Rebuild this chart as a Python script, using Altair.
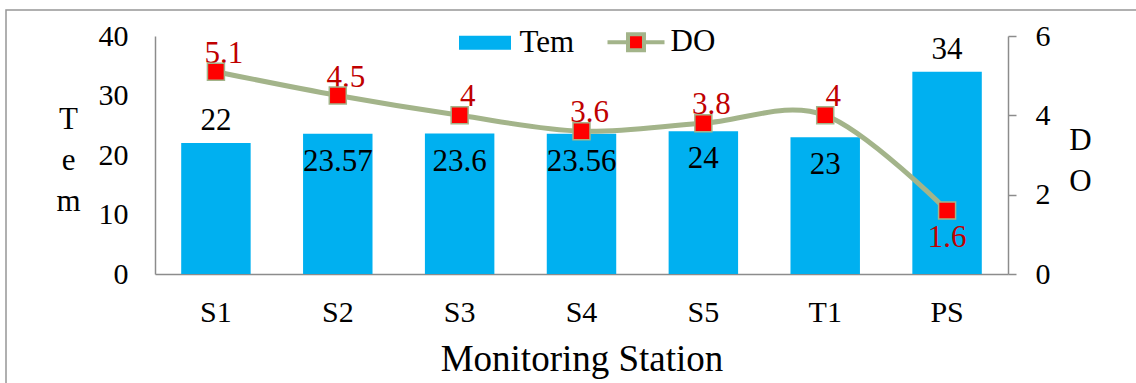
import altair as alt
import pandas as pd

# Monitoring stations and measured values
stations = ["S1", "S2", "S3", "S4", "S5", "T1", "PS"]
tem = [22, 23.57, 23.6, 23.56, 24, 23, 34]
do = [5.1, 4.5, 4, 3.6, 3.8, 4, 1.6]

tem_ticks = [0, 10, 20, 30, 40]
do_ticks = [0, 2, 4, 6]
series = ["Tem", "DO"]

# stations whose temperature label sits above the bar
tem_label_outside = ["S1", "PS"]

FONT = "Liberation Serif"
BLUE = "#00B0F0"
GREEN = "#A3B48A"
RED = "#FF0000"
DARK_RED = "#C00000"
GRAY = "#8C8C8C"

df = pd.DataFrame({
    "station": stations,
    "tem": tem,
    "do": do,
    "tem_txt": [f"{v:g}" for v in tem],
    "do_txt": [f"{v:g}" for v in do],
})
legend_df = pd.DataFrame({"series": series})
frame_df = pd.DataFrame({"k": [0]})

x_enc = alt.X(
    "station:N",
    sort=stations,
    scale=alt.Scale(paddingInner=0.43, paddingOuter=0.215),
    axis=alt.Axis(
        title="Monitoring Station",
        labelAngle=0,
        ticks=False,
        domainColor=GRAY,
        domainWidth=1.5,
        labelFont=FONT,
        labelFontSize=30,
        labelColor="black",
        labelPadding=23,
        titleFont=FONT,
        titleFontSize=37,
        titleFontWeight="normal",
        titleColor="black",
        titleBaseline="alphabetic",
        titleY=96,
    ),
)

tem_y = alt.Y(
    "tem:Q",
    scale=alt.Scale(domain=[0, 40], nice=False),
    axis=alt.Axis(
        values=tem_ticks,
        grid=False,
        ticks=False,
        domainColor=GRAY,
        domainWidth=1.5,
        labelFont=FONT,
        labelFontSize=30,
        labelColor="black",
        labelPadding=27,
        title=["T", "e", "m"],
        titleAngle=0,
        titleAlign="center",
        titleBaseline="middle",
        titleX=-87,
        titleY=83,
        titleLineHeight=41,
        titleFont=FONT,
        titleFontSize=31,
        titleFontWeight="normal",
        titleColor="black",
    ),
)

do_y = alt.Y(
    "do:Q",
    scale=alt.Scale(domain=[0, 6], nice=False),
    axis=alt.Axis(
        orient="right",
        values=do_ticks,
        grid=False,
        ticks=True,
        tickSize=8,
        tickColor=GRAY,
        tickWidth=1.5,
        domainColor=GRAY,
        domainWidth=1.5,
        labelFont=FONT,
        labelFontSize=30,
        labelColor="black",
        labelPadding=19,
        title=["D", "O"],
        titleAngle=0,
        titleAlign="center",
        titleBaseline="middle",
        titleX=72,
        titleY=104,
        titleLineHeight=41,
        titleFont=FONT,
        titleFontSize=31,
        titleFontWeight="normal",
        titleColor="black",
    ),
)

# outer frame around the figure
frame = alt.Chart(frame_df).mark_rect(
    fillOpacity=0, stroke="#969696", strokeWidth=1.5
).encode(
    x=alt.value(-149), x2=alt.value(1300),
    y=alt.value(-26), y2=alt.value(500),
)

bars = alt.Chart(df).mark_bar(color=BLUE).encode(x=x_enc, y=tem_y)

tem_text_in = alt.Chart(df).transform_filter(
    ~alt.FieldOneOfPredicate(field="station", oneOf=tem_label_outside)
).mark_text(font=FONT, fontSize=31, color="black", baseline="middle", dy=28).encode(
    x=x_enc, y=tem_y, text="tem_txt:N"
)
tem_text_out = alt.Chart(df).transform_filter(
    alt.FieldOneOfPredicate(field="station", oneOf=tem_label_outside)
).mark_text(font=FONT, fontSize=31, color="black", baseline="middle", dy=-22).encode(
    x=x_enc, y=tem_y, text="tem_txt:N"
)

tem_group = alt.layer(frame, bars, tem_text_in, tem_text_out)

line = alt.Chart(df).mark_line(
    color=GREEN, strokeWidth=5, interpolate="cardinal"
).encode(x=x_enc, y=do_y)

do_text_above = alt.Chart(df).transform_filter("datum.do >= 2").mark_text(
    font=FONT, fontSize=31, color=DARK_RED, baseline="middle", dx=8, dy=-18
).encode(x=x_enc, y=do_y, text="do_txt:N")
do_text_below = alt.Chart(df).transform_filter("datum.do < 2").mark_text(
    font=FONT, fontSize=31, color=DARK_RED, baseline="middle", dy=27
).encode(x=x_enc, y=do_y, text="do_txt:N")

markers = alt.Chart(df).mark_square(
    size=289, fill=RED, stroke=GREEN, strokeWidth=1.5, opacity=1
).encode(x=x_enc, y=do_y)

# legend-only layer: no rows are drawn, the explicit scales build the legend
legend = alt.Legend(
    title=None,
    orient="none",
    legendX=299.5,
    legendY=-24.5,
    direction="horizontal",
    labelFont=FONT,
    labelFontSize=31,
    labelColor="black",
    labelOffset=4,
    labelBaseline="middle",
    columnPadding=25,
    symbolSize=3249,
    symbolStrokeWidth=4,
    symbolOpacity=1,
)
tem_path = "M-0.842,-0.175H0.842V0.175H-0.842Z"
do_path = "M-1,0H-0.28M0.28,0H1M-0.28,-0.28H0.28V0.28H-0.28Z"
legend_layer = alt.Chart(legend_df).transform_filter("false").mark_point(
    filled=True, size=3249, strokeWidth=4, opacity=1
).encode(
    fill=alt.Fill("series:N", scale=alt.Scale(domain=series, range=[BLUE, RED]), legend=legend),
    stroke=alt.Stroke("series:N", scale=alt.Scale(domain=series, range=[BLUE, GREEN]), legend=legend),
    shape=alt.Shape("series:N", scale=alt.Scale(domain=series, range=[tem_path, do_path]), legend=legend),
)

do_group = alt.layer(line, do_text_above, do_text_below, markers, legend_layer)

chart = alt.layer(tem_group, do_group).resolve_scale(y="independent").properties(
    width=853,
    height=238,
    autosize=alt.AutoSizeParams(type="none"),
    padding={"left": 155, "top": 36, "right": 128, "bottom": 109},
    background="white",
).configure_view(strokeWidth=0)

chart.save("out.html", embed_options={"renderer": "svg", "actions": False})
